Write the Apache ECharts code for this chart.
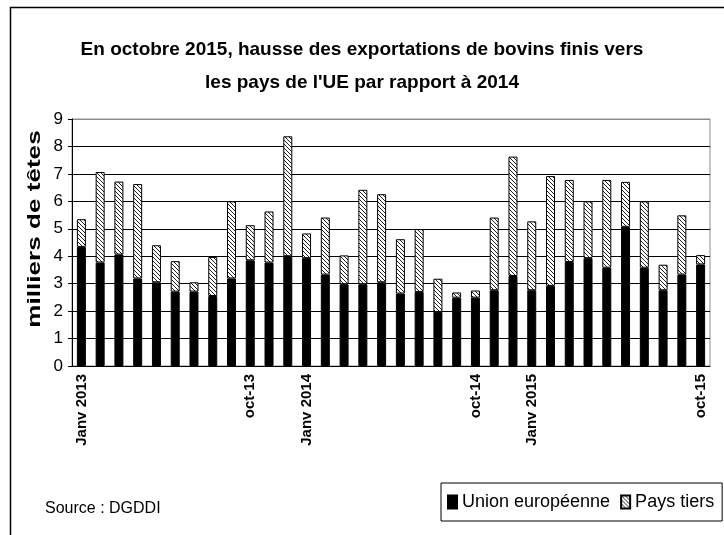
<!DOCTYPE html>
<html>
<head>
<meta charset="utf-8">
<script src="https://cdn.jsdelivr.net/npm/echarts@6/dist/echarts.min.js"></script>
<style>
	html, body { margin: 0; padding: 0; background: #fff; }
	#chart { width: 724px; height: 535px; }
</style>
</head>
<body>
<div id="chart"></div>
<script>
const months = [
	'Janv 2013', 'févr-13', 'mars-13', 'avr-13', 'mai-13', 'juin-13', 'juil-13', 'août-13', 'sept-13', 'oct-13', 'nov-13', 'déc-13',
	'Janv 2014', 'févr-14', 'mars-14', 'avr-14', 'mai-14', 'juin-14', 'juil-14', 'août-14', 'sept-14', 'oct-14', 'nov-14', 'déc-14',
	'Janv 2015', 'févr-15', 'mars-15', 'avr-15', 'mai-15', 'juin-15', 'juil-15', 'août-15', 'sept-15', 'oct-15'
]
// milliers de têtes
const unionEuropeenne = [
	4.34, 3.77, 4.06, 3.19, 3.05, 2.71, 2.71, 2.55, 3.19, 3.85, 3.77, 4.00,
	3.93, 3.33, 2.98, 2.98, 3.05, 2.64, 2.70, 1.97, 2.49, 2.49, 2.76, 3.28,
	2.76, 2.92, 3.79, 3.93, 3.58, 5.07, 3.58, 2.76, 3.33, 3.70
]
const paysTiers = [
	1.01, 3.30, 2.66, 3.44, 1.35, 1.11, 0.34, 1.42, 2.81, 1.28, 1.86, 4.37,
	0.90, 2.08, 1.05, 3.44, 3.21, 1.98, 2.29, 1.21, 0.19, 0.26, 2.65, 4.35,
	2.51, 4.00, 2.99, 2.07, 3.20, 1.64, 2.42, 0.93, 2.16, 0.34
]
const shownLabels = [0, 9, 12, 21, 24, 33]
const yTicks = [0, 9, 1]

// hachures pour "Pays tiers"
function hatch() {
	const c = document.createElement('canvas')
	c.width = 4
	c.height = 4
	const ctx = c.getContext('2d')
	ctx.fillStyle = '#fff'
	ctx.fillRect(0, 0, 4, 4)
	ctx.fillStyle = '#222'
	for (let i = 0; i < 4; i++) ctx.fillRect(i, i, 1, 1)
	return c
}

const font = "'Liberation Sans', Arial, sans-serif"
const splitColors = []
for (let v = yTicks[0]; v <= yTicks[1]; v += yTicks[2]) splitColors.push(v === yTicks[1] ? '#8c8c8c' : '#000')

let myChart = echarts.init(document.getElementById('chart'))
myChart.setOption({
	animation: false,
	textStyle: { fontFamily: font, color: '#000' },
	title: [
		{
			text: "En octobre 2015, hausse des exportations de bovins finis vers\nles pays de l'UE par rapport à 2014",
			left: 'center',
			top: 28,
			textStyle: { fontFamily: font, fontSize: 19, fontWeight: 'bold', lineHeight: 33, color: '#000' },
		},
		{
			text: 'Source : DGDDI',
			left: 40,
			top: 496,
			textStyle: { fontFamily: font, fontSize: 16, fontWeight: 'normal', color: '#000' },
		},
	],
	legend: {
		left: 441,
		top: 483,
		orient: 'horizontal',
		icon: 'rect',
		itemWidth: 9,
		itemHeight: 13,
		itemGap: 10,
		padding: [10, 8, 10, 6],
		borderColor: '#000',
		borderWidth: 1,
		textStyle: { fontFamily: font, fontSize: 18, color: '#000' },
		data: ['Union européenne', 'Pays tiers'],
	},
	grid: {
		left: 72,
		right: 14,
		top: 119,
		bottom: 169,
		show: true,
		borderColor: '#8c8c8c',
		borderWidth: 1,
	},
	xAxis: {
		type: 'category',
		data: months,
		axisLine: { lineStyle: { color: '#000', width: 1 } },
		axisTick: { interval: 0, length: 5, lineStyle: { color: '#000' } },
		axisLabel: {
			interval: (index) => shownLabels.includes(index),
			rotate: 90,
			margin: 8,
			fontSize: 15,
			fontWeight: 'bold',
			color: '#000',
		},
	},
	yAxis: {
		type: 'value',
		min: yTicks[0],
		max: yTicks[1],
		interval: yTicks[2],
		axisLine: { show: true, lineStyle: { color: '#000' } },
		axisTick: { show: true, length: 4, lineStyle: { color: '#000' } },
		axisLabel: { fontSize: 17, margin: 9, color: '#000' },
		splitLine: { show: true, lineStyle: { color: splitColors, width: 1 } },
	},
	graphic: [
		{
			type: 'rect',
			left: 8,
			top: 5,
			shape: { width: 800, height: 600 },
			style: { fill: 'none', stroke: '#000', lineWidth: 1.5 },
			silent: true,
		},
		{
			type: 'text',
			x: 35,
			y: 229,
			rotation: Math.PI / 2,
			scaleX: 1.45,
			style: {
				text: 'milliers de têtes',
				font: "bold 18px 'Liberation Sans', Arial, sans-serif",
				fill: '#000',
				align: 'center',
				verticalAlign: 'middle',
			},
		},
	],
	series: [
		{
			name: 'Union européenne',
			type: 'bar',
			stack: 'total',
			barWidth: 9,
			itemStyle: { color: '#000', borderColor: '#000', borderWidth: 1 },
			data: unionEuropeenne,
		},
		{
			name: 'Pays tiers',
			type: 'bar',
			stack: 'total',
			barWidth: 9,
			itemStyle: { color: { image: hatch(), repeat: 'repeat' }, borderColor: '#000', borderWidth: 1 },
			data: paysTiers,
		},
	],
})
</script>
</body>
</html>
